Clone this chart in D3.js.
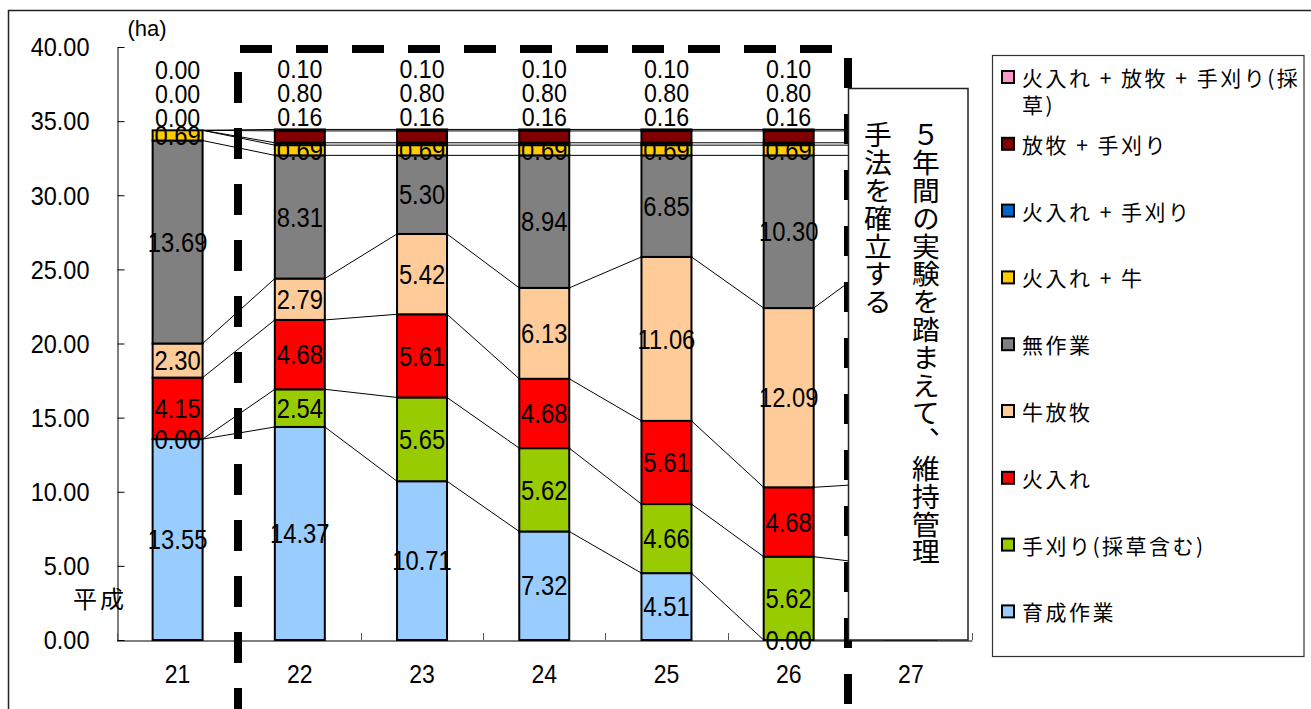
<!DOCTYPE html>
<html><head><meta charset="utf-8">
<script src="https://cdn.jsdelivr.net/npm/d3@7"></script>
<style>body{margin:0;background:#fff;} svg{display:block}</style>
</head><body><svg id="c" width="1311" height="709"></svg>
<script>
// ---- data ----
const categories = ["21","22","23","24","25","26","27"];
const seriesNames = ["育成作業","手刈り(採草含む)","火入れ","牛放牧","無作業","火入れ + 牛","火入れ + 手刈り","放牧 + 手刈り","火入れ + 放牧 + 手刈り(採草)"];
const seriesColors = ["#99CCFF","#99CC00","#FF0000","#FFCC99","#808080","#FFCC00","#0066CC","#800000","#FF99CC"];
const ikusei            = [13.55,14.37,10.71, 7.32, 4.51, 0.00, 0.00];
const tegari            = [ 0.00, 2.54, 5.65, 5.62, 4.66, 5.62, 5.03];
const hiire             = [ 4.15, 4.68, 5.61, 4.68, 5.61, 4.68, 5.57];
const ushiHoboku        = [ 2.30, 2.79, 5.42, 6.13,11.06,12.09,15.37];
const musagyo           = [13.69, 8.31, 5.30, 8.94, 6.85,10.30, 6.72];
const hiireUshi         = [ 0.69, 0.69, 0.69, 0.69, 0.69, 0.69, 0.69];
const hiireTegari       = [ 0.00, 0.16, 0.16, 0.16, 0.16, 0.16, 0.16];
const hobokuTegari      = [ 0.00, 0.80, 0.80, 0.80, 0.80, 0.80, 0.80];
const hiireHobokuTegari = [ 0.00, 0.10, 0.10, 0.10, 0.10, 0.10, 0.10];
const yTicks = [0,5,10,15,20,25,30,35,40];
const labelledCategories = ["21","22","23","24","25","26"];
const unitLabel = "(ha)";
const eraLabel = "平成";
const noteColumns = ["５年間の実験を踏まえて、維持管理","手法を確立する"];

// ---- setup ----
const svg = d3.select("#c");
const NUM = "'Liberation Sans', Arial, sans-serif";
const JP = "'Noto Sans CJK JP', 'Noto Sans CJK SC', sans-serif";
const fmt = d3.format(".2f");

function numText(g, px, py, str, size, sx, anchor) {
  return g.append("text")
    .attr("transform", `translate(${px},${py}) scale(${sx},1)`)
    .attr("text-anchor", anchor || "middle")
    .attr("dominant-baseline", "central")
    .attr("font-family", NUM).attr("font-size", size)
    .attr("fill", "#000").text(str);
}

// outer chart border
svg.append("rect").attr("x", 8.5).attr("y", 10.5).attr("width", 1330).attr("height", 730)
  .attr("fill", "#fff").attr("stroke", "#222").attr("stroke-width", 1.5);

const seriesData = [ikusei, tegari, hiire, ushiHoboku, musagyo, hiireUshi, hiireTegari, hobokuTegari, hiireHobokuTegari];
const rows = categories.map((c, i) => {
  const r = {cat: c};
  seriesNames.forEach((n, k) => r[n] = seriesData[k][i]);
  return r;
});
const stacked = d3.stack().keys(seriesNames)(rows);

const x = d3.scaleBand().domain(categories).range([116.5, 972]).paddingInner(0.591).paddingOuter(0.2955);
const y = d3.scaleLinear().domain([0, 40]).range([640, 47]);
const bw = x.bandwidth();

// series lines
const gLines = svg.append("g").attr("stroke", "#000").attr("stroke-width", 1).attr("fill", "none");
stacked.forEach(s => {
  for (let i = 0; i < categories.length - 1; i++) {
    gLines.append("line")
      .attr("x1", x(categories[i]) + bw).attr("y1", y(s[i][1]))
      .attr("x2", x(categories[i + 1])).attr("y2", y(s[i + 1][1]));
  }
});

// bars
stacked.forEach((s, k) => {
  svg.append("g").selectAll("rect").data(s).join("rect")
    .attr("x", d => x(d.data.cat)).attr("y", d => y(d[1]))
    .attr("width", bw).attr("height", d => y(d[0]) - y(d[1]))
    .attr("fill", seriesColors[k]).attr("stroke", "#000").attr("stroke-width", 2);
});

// labels
const gLab = svg.append("g");
const topSeries = stacked[stacked.length - 1];
stacked.forEach((s, k) => {
  s.forEach((d, i) => {
    if (!labelledCategories.includes(d.data.cat)) return;
    const cx = x(d.data.cat) + bw / 2;
    if (k < 6) {
      numText(gLab, cx, y((d[0] + d[1]) / 2), fmt(seriesData[k][i]), 28, 0.85);
    } else {
      numText(gLab, cx, y(topSeries[i][1]) - 12.5 - (k - 6) * 24, fmt(seriesData[k][i]), 25.5, 0.91);
    }
  });
});

// y axis
const yAxis = svg.append("g").attr("transform", "translate(117.5,0)")
  .call(d3.axisLeft(y).tickValues(yTicks).tickFormat(fmt).tickSizeInner(-7).tickSizeOuter(0).tickPadding(28));
yAxis.select(".domain").attr("stroke", "#000");
yAxis.selectAll(".tick line").attr("stroke", "#000");
yAxis.selectAll(".tick text")
  .attr("font-family", NUM).attr("font-size", 25).attr("fill", "#000")
  .attr("dy", null).attr("dominant-baseline", "central")
  .attr("x", -28 / 0.94).attr("transform", "scale(0.94,1)");

// x axis
const xAxis = svg.append("g").attr("transform", "translate(0,640.5)")
  .call(d3.axisBottom(x).tickSizeInner(0).tickSizeOuter(0).tickPadding(34));
xAxis.select(".domain").attr("stroke", "#000");
xAxis.selectAll(".tick text")
  .attr("font-family", NUM).attr("font-size", 25).attr("fill", "#000")
  .attr("dy", null).attr("dominant-baseline", "central")
  .attr("transform", "scale(0.92,1)");

// category boundary ticks
const gB = svg.append("g").attr("stroke", "#555").attr("stroke-width", 1);
d3.range(categories.length + 1).forEach(i => {
  const bx = Math.round(x.range()[0] + i * x.step()) + 0.5;
  gB.append("line").attr("x1", bx).attr("x2", bx).attr("y1", 640).attr("y2", 633);
});

// unit and era labels
svg.append("text").attr("x", 147).attr("y", 28).attr("text-anchor", "middle")
  .attr("dominant-baseline", "central").attr("font-family", NUM).attr("font-size", 22).text(unitLabel);
svg.append("text").attr("x", 100).attr("y", 597).attr("text-anchor", "middle")
  .attr("dominant-baseline", "central").attr("font-family", JP).attr("font-size", 24)
  .attr("letter-spacing", 3).text(eraLabel);

// dashed box
const gD = svg.append("g").attr("stroke", "#000").attr("stroke-width", 8).attr("fill", "none");
gD.append("line").attr("x1", 240).attr("y1", 49).attr("x2", 848).attr("y2", 49).attr("stroke-dasharray", "32,24");
gD.append("line").attr("x1", 238).attr("y1", 72).attr("x2", 238).attr("y2", 720).attr("stroke-dasharray", "31,25");
gD.append("line").attr("x1", 848).attr("y1", 58).attr("x2", 848).attr("y2", 720).attr("stroke-dasharray", "30,26");
gD.append("line").attr("x1", 240).attr("y1", 713).attr("x2", 848).attr("y2", 713).attr("stroke-dasharray", "32,24");

// note box
svg.append("rect").attr("x", 848.5).attr("y", 88.5).attr("width", 119.5).attr("height", 551.5)
  .attr("fill", "#fff").attr("stroke", "#222").attr("stroke-width", 1.5);
noteColumns.forEach((t, i) => {
  svg.append("text").attr("x", 926 - i * 48).attr("y", 121)
    .attr("style", "writing-mode: vertical-rl; text-orientation: upright;")
    .attr("font-family", JP).attr("font-size", 27.8).attr("fill", "#000").text(t);
});

// legend
svg.append("rect").attr("x", 992.5).attr("y", 55.5).attr("width", 311.5).attr("height", 601)
  .attr("fill", "#fff").attr("stroke", "#333").attr("stroke-width", 1.2);
const legendOrder = d3.range(seriesNames.length).reverse();
legendOrder.forEach((k, j) => {
  const cy = 77 + j * 66.8;
  svg.append("rect").attr("x", 1002).attr("y", cy - 6).attr("width", 12).attr("height", 12)
    .attr("fill", seriesColors[k]).attr("stroke", "#000").attr("stroke-width", 2);
  const t = svg.append("text").attr("x", 1022).attr("y", cy).attr("dominant-baseline", "central")
    .attr("font-family", JP).attr("font-size", 21).attr("letter-spacing", 2.5).attr("fill", "#000");
  const maxW = 284;
  const chars = Array.from(seriesNames[k]);
  let line = "", lines = [];
  const probe = svg.append("text").attr("font-family", JP).attr("font-size", 21).attr("letter-spacing", 2.5).attr("visibility", "hidden");
  chars.forEach(ch => {
    probe.text(line + ch);
    if (probe.node().getComputedTextLength() > maxW && line) { lines.push(line); line = ch; }
    else line += ch;
  });
  lines.push(line);
  probe.remove();
  lines.forEach((l, li) => {
    t.append("tspan").attr("x", 1022).attr("dy", li === 0 ? 0 : 27).text(l);
  });
});
</script>
</body></html>
